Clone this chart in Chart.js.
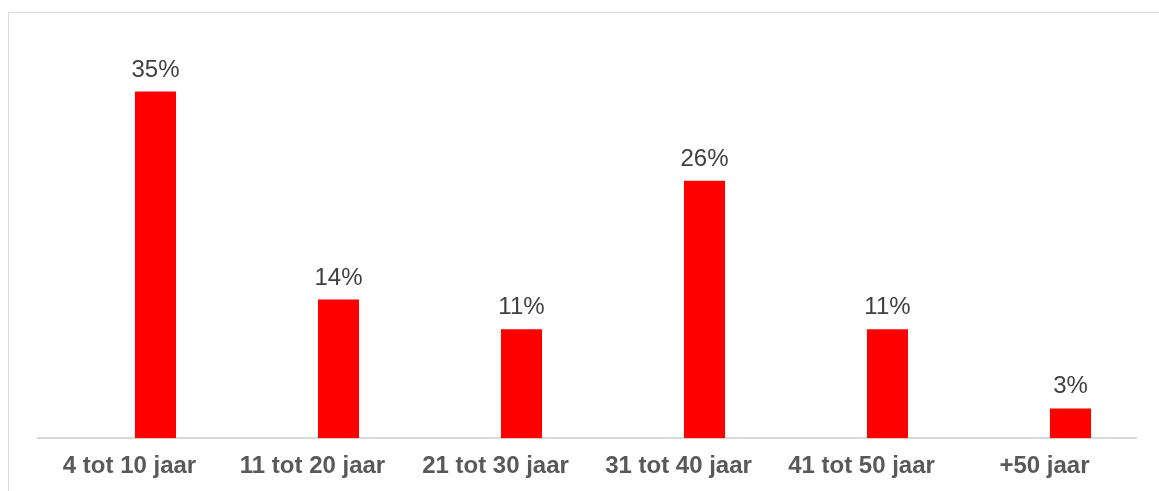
<!DOCTYPE html>
<html>
<head>
<meta charset="utf-8">
<script src="https://cdn.jsdelivr.net/npm/chart.js@4"></script>
<style>
  html, body { margin: 0; padding: 0; background: #fff; overflow: hidden; }
  #frame {
    position: absolute; left: 8px; top: 12px;
    width: 1200px; height: 520px;
    border: 1px solid #d9d9d9;
  }
  #wrap { position: absolute; left: 0; top: 0; width: 1150px; height: 492px; }
</style>
</head>
<body>
<div id="frame">
  <div id="wrap"><canvas id="leeftijdChart"></canvas></div>
</div>
<script>
// Leeftijd van de woningen (aandeel in %)
const categorieen = ['4 tot 10 jaar', '11 tot 20 jaar', '21 tot 30 jaar', '31 tot 40 jaar', '41 tot 50 jaar', '+50 jaar'];
const percentages = [35, 14, 11, 26, 11, 3];
// lege reeks, zoals in het origineel staan de balken rechts van het midden
const leeg = [null, null, null, null, null, null];

// Labels boven de balken tekenen
const labelPlugin = {
    id: 'balkLabels',
    afterDatasetsDraw(chart) {
        const ctx = chart.ctx;
        const meta = chart.getDatasetMeta(1);
        ctx.save();
        ctx.font = '24px "Liberation Sans", Arial, sans-serif';
        ctx.fillStyle = '#404040';
        ctx.textAlign = 'center';
        ctx.textBaseline = 'alphabetic';
        meta.data.forEach((bar, i) => {
            ctx.fillText(percentages[i] + '%', bar.x, bar.y - 15);
        });
        ctx.restore();
    }
};

const ctx = document.getElementById('leeftijdChart').getContext('2d');
const leeftijdChart = new Chart(ctx, {
    type: 'bar',
    data: {
        labels: categorieen,
        datasets: [{
            data: leeg,
            backgroundColor: 'transparent',
            categoryPercentage: 0.568,
            barPercentage: 0.79,
        }, {
            data: percentages,
            backgroundColor: '#ff0000',
            categoryPercentage: 0.568,
            barPercentage: 0.79,
        }]
    },
    options: {
        responsive: true,
        maintainAspectRatio: false,
        animation: false,
        layout: { padding: { left: 29, right: 23, top: 29, bottom: 10 } },
        plugins: {
            legend: { display: false },
            tooltip: { enabled: false },
        },
        scales: {
            x: {
                grid: { display: true, drawOnChartArea: false, drawTicks: false, color: 'transparent' },
                border: { display: true, color: '#d9d9d9', width: 2 },
                ticks: {
                    color: '#595959',
                    padding: 14,
                    font: { family: '"Liberation Sans", Arial, sans-serif', size: 24, weight: 'bold' },
                    maxRotation: 0,
                },
            },
            y: {
                display: false,
                min: 0,
                max: 40,
            }
        }
    },
    plugins: [labelPlugin]
});
</script>
</body>
</html>
